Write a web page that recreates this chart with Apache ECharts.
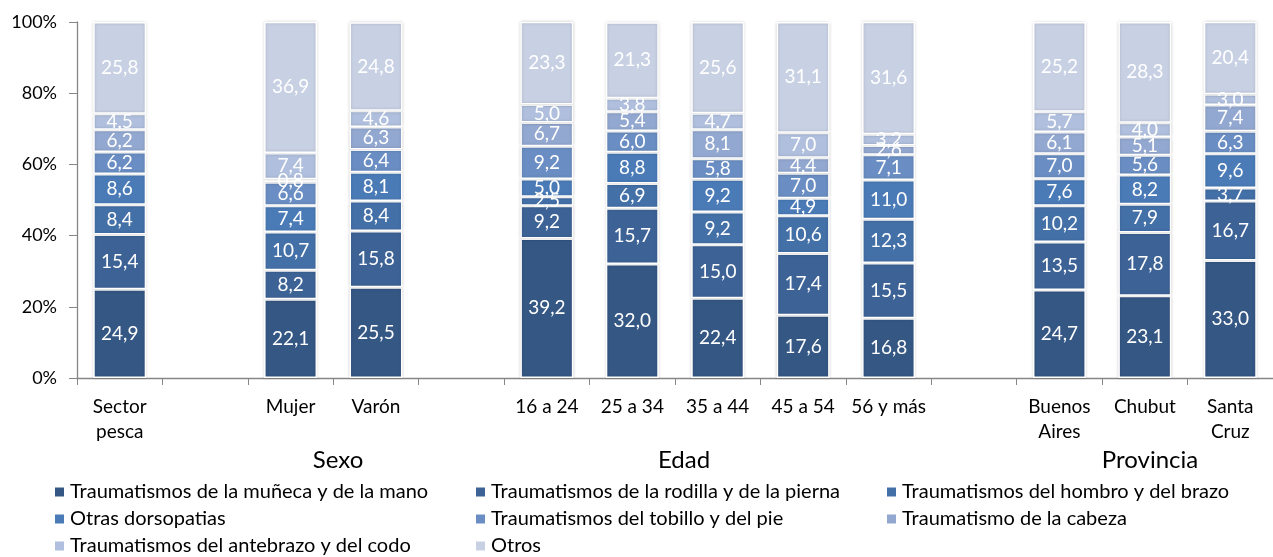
<!DOCTYPE html>
<html lang="es">
<head>
<meta charset="UTF-8">
<title>Lesiones - sector pesca</title>
<script src="https://cdn.jsdelivr.net/npm/echarts@6/dist/echarts.min.js"></script>
<style>
    html, body { margin: 0; padding: 0; background: #fff; }
    #main { width: 1273px; height: 557px; }
</style>
</head>
<body>
<div id="main"></div>
<script>
// categorias (las vacias separan los grupos)
var categorias = ['Sector\npesca', '', 'Mujer', 'Varón', '', '16 a 24', '25 a 34', '35 a 44', '45 a 54', '56 y más', '', 'Buenos\nAires', 'Chubut', 'Santa\nCruz'];
var grupos = ['Sexo', 'Edad', 'Provincia'];
var ticksY = ['0%', '20%', '40%', '60%', '80%', '100%'];

// valores de abajo hacia arriba
var munecaMano      = [24.9, null, 22.1, 25.5, null, 39.2, 32.0, 22.4, 17.6, 16.8, null, 24.7, 23.1, 33.0];
var rodillaPierna   = [15.4, null, 8.2, 15.8, null, 9.2, 15.7, 15.0, 17.4, 15.5, null, 13.5, 17.8, 16.7];
var hombroBrazo     = [8.4, null, 10.7, 8.4, null, 2.5, 6.9, 9.2, 10.6, 12.3, null, 10.2, 7.9, 3.7];
var dorsopatias     = [8.6, null, 7.4, 8.1, null, 5.0, 8.8, 9.2, 4.9, 11.0, null, 7.6, 8.2, 9.6];
var tobilloPie      = [6.2, null, 6.6, 6.4, null, 9.2, 6.0, 5.8, 7.0, 7.1, null, 7.0, 5.6, 6.3];
var cabeza          = [6.2, null, 0.8, 6.3, null, 6.7, 5.4, 8.1, 4.4, 2.6, null, 6.1, 5.1, 7.4];
var antebrazoCodo   = [4.5, null, 7.4, 4.6, null, 5.0, 3.8, 4.7, 7.0, 3.2, null, 5.7, 4.0, 3.0];
var otros           = [25.8, null, 36.9, 24.8, null, 23.3, 21.3, 25.6, 31.1, 31.6, null, 25.2, 28.3, 20.4];

var nombres = [
    'Traumatismos de la muñeca y de la mano',
    'Traumatismos de la rodilla y de la pierna',
    'Traumatismos del hombro y del brazo',
    'Otras dorsopatias',
    'Traumatismos del tobillo y del pie',
    'Traumatismo de la cabeza',
    'Traumatismos del antebrazo y del codo',
    'Otros'
];
var valores = [munecaMano, rodillaPierna, hombroBrazo, dorsopatias, tobilloPie, cabeza, antebrazoCodo, otros];
var colores = ['#355784', '#3d6396', '#4470a8', '#4a7bb7', '#6a8ec3', '#93a8d0', '#afbfdd', '#c8d1e4'];

var fuente = 'Lato, "Open Sans", sans-serif';

var chart = echarts.init(document.getElementById('main'));

var series = nombres.map(function (nombre, i) {
    return {
        name: nombre,
        type: 'bar',
        stack: 'total',
        barWidth: '62%',
        data: valores[i],
        itemStyle: {
            color: colores[i],
            borderColor: '#ffffff',
            borderWidth: 1.5,
            shadowColor: 'rgba(0,0,0,0.18)',
            shadowBlur: 3
        },
        label: {
            show: true,
            position: 'inside',
            color: '#ffffff',
            fontFamily: fuente,
            fontSize: 19,
            formatter: function (p) {
                return p.value == null ? '' : p.value.toFixed(1).replace('.', ',');
            }
        }
    };
});

function leyenda(items, x) {
    return {
        data: items,
        orient: 'vertical',
        left: x,
        top: 482,
        padding: 0,
        itemWidth: 11,
        itemHeight: 11,
        itemGap: 7,
        icon: 'rect',
        textStyle: { fontFamily: fuente, fontSize: 20, color: '#000' }
    };
}

chart.setOption({
    animation: false,
    grid: { left: 77, top: 22, width: 1205, height: 356 },
    legend: [
        leyenda([nombres[0], nombres[3], nombres[6]], 53),
        leyenda([nombres[1], nombres[4], nombres[7]], 474),
        leyenda([nombres[2], nombres[5]], 885)
    ],
    xAxis: {
        type: 'category',
        data: categorias,
        axisLine: { lineStyle: { color: '#868686', width: 1.3 } },
        axisTick: { show: true, interval: 0, length: 7, lineStyle: { color: '#868686' } },
        axisLabel: {
            interval: 0,
            margin: 16,
            lineHeight: 25,
            color: '#000',
            fontFamily: fuente,
            fontSize: 19
        }
    },
    yAxis: {
        type: 'value',
        min: 0,
        max: 100,
        interval: 20,
        axisLine: { show: true, lineStyle: { color: '#868686', width: 1.3 } },
        axisTick: { show: true, length: 8, lineStyle: { color: '#868686' } },
        splitLine: { show: false },
        axisLabel: {
            margin: 20,
            color: '#000',
            fontFamily: fuente,
            fontSize: 18,
            formatter: function (v) { return ticksY[v / 20]; }
        }
    },
    graphic: [
        { type: 'text', x: 338, y: 460, style: { text: grupos[0], align: 'center', verticalAlign: 'middle', fontFamily: fuente, fontSize: 24, fill: '#000' } },
        { type: 'text', x: 684, y: 460, style: { text: grupos[1], align: 'center', verticalAlign: 'middle', fontFamily: fuente, fontSize: 24, fill: '#000' } },
        { type: 'text', x: 1150, y: 460, style: { text: grupos[2], align: 'center', verticalAlign: 'middle', fontFamily: fuente, fontSize: 24, fill: '#000' } }
    ],
    series: series
});
</script>
</body>
</html>
